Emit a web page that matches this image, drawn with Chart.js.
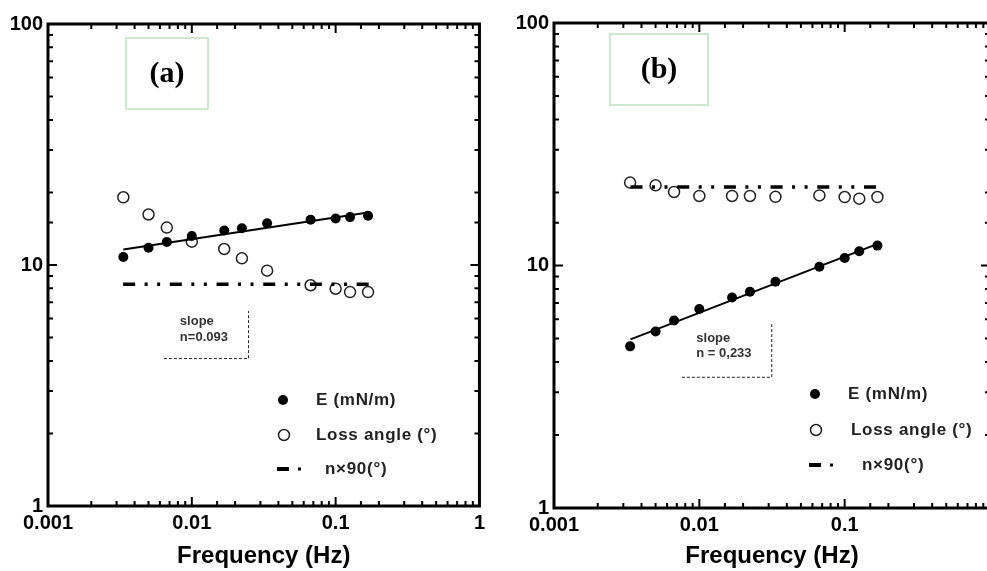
<!DOCTYPE html>
<html>
<head>
<meta charset="utf-8">
<script src="https://cdn.jsdelivr.net/npm/chart.js@4.4.1/dist/chart.umd.min.js"></script>
<style>
  html, body { margin: 0; padding: 0; background: #fff; }
  body { width: 987px; height: 571px; position: relative; overflow: hidden; }
  canvas { position: absolute; top: 0; }
  #chartA { left: 0; }
  #chartB { left: 490px; }
</style>
</head>
<body>
<canvas id="chartA" width="490" height="571"></canvas>
<canvas id="chartB" width="510" height="571"></canvas>
<script>
// frequencies (Hz), shared by both panels
const freq = [0.00334, 0.005, 0.0067, 0.01, 0.0168, 0.0223, 0.0334, 0.067, 0.1, 0.126, 0.168];

// panel (a)
const modulusA   = [10.8, 11.8, 12.45, 13.2, 13.9, 14.2, 14.9, 15.4, 15.6, 15.8, 16.0];
const lossAngleA = [19.1, 16.2, 14.3, 12.5, 11.65, 10.66, 9.47, 8.24, 7.97, 7.72, 7.72];
const fitFreqA   = [0.00334, 0.168];
const fitA       = [11.6, 16.5];
const n90FreqA   = [0.00333, 0.17];
const n90A       = [8.32, 8.32];
const slopeFreqA = [0.0064, 0.0248, 0.0248];
const slopeValA  = [4.09, 4.09, 6.44];

// panel (b)
const modulusB   = [4.64, 5.34, 5.93, 6.62, 7.38, 7.79, 8.57, 9.89, 10.74, 11.45, 12.08];
const lossAngleB = [21.97, 21.4, 20.1, 19.35, 19.35, 19.35, 19.2, 19.45, 19.16, 18.86, 19.16];
const fitFreqB   = [0.00336, 0.1686];
const fitB       = [4.96, 12.28];
const n90FreqB   = [0.00336, 0.168];
const n90B       = [21.08, 21.08];
const slopeFreqB = [0.00759, 0.0315, 0.0315];
const slopeValB  = [3.46, 3.46, 5.78];

// tick labels
const xTickLabelsA = ['0.001', '0.01', '0.1', '1'];
const xTickLabelsB = ['0.001', '0.01', '0.1'];
const yTickLabels  = ['1', '10', '100'];

const legendLabels = ['E (mN/m)', 'Loss angle (\u00b0)', 'n\u00d790(\u00b0)'];

const SANS = '"Liberation Sans", Arial, sans-serif';
const SERIF = '"Liberation Serif", "Times New Roman", serif';
const DASH_DOT = [12, 9.5, 3, 9.5, 3, 9.7];

const zip = (xs, ys) => xs.map((x, i) => ({ x, y: ys[i] }));

function isDecade(v) {
  const l = Math.log10(v);
  return Math.abs(l - Math.round(l)) < 1e-6;
}

function labelFor(v, labels) {
  if (!isDecade(v)) return '';
  const l = Math.log10(v);
  return labels.find(s => Math.abs(Math.log10(Number(s)) - l) < 1e-6) || '';
}

// ── frame, inward ticks, legend, slope text and panel letter ─────────────
const decorPlugin = {
  id: 'decor',
  afterDraw(chart, args, opts) {
    const { ctx, chartArea: a } = chart;
    const xs = chart.scales.x, ys = chart.scales.y;
    ctx.save();

    // ticks on all four sides, pointing inward
    ctx.strokeStyle = '#000';
    ctx.lineWidth = 2;
    ctx.beginPath();
    xs.ticks.forEach(t => {
      const px = xs.getPixelForValue(t.value);
      if (px < a.left - 0.5 || px > a.right + 0.5) return;
      const len = isDecade(t.value) ? 9 : 5;
      ctx.moveTo(px, a.bottom); ctx.lineTo(px, a.bottom - len);
      ctx.moveTo(px, a.top);    ctx.lineTo(px, a.top + len);
    });
    ys.ticks.forEach(t => {
      const py = ys.getPixelForValue(t.value);
      if (py < a.top - 0.5 || py > a.bottom + 0.5) return;
      const len = isDecade(t.value) ? 9 : 5;
      ctx.moveTo(a.left, py);  ctx.lineTo(a.left + len, py);
      ctx.moveTo(a.right, py); ctx.lineTo(a.right - len, py);
    });
    ctx.stroke();

    ctx.lineWidth = 3;
    ctx.strokeRect(a.left, a.top, a.right - a.left, a.bottom - a.top);

    // panel letter in its box
    const b = opts.letterBox;
    ctx.strokeStyle = '#cde8d1';
    ctx.lineWidth = 2;
    ctx.strokeRect(b.x, b.y, b.w, b.h);
    ctx.fillStyle = '#000';
    ctx.font = 'bold 30px ' + SERIF;
    ctx.textAlign = 'center';
    ctx.textBaseline = 'middle';
    ctx.fillText(opts.letter, b.x + b.w / 2, b.y + b.h / 2 + 1);

    // slope annotation
    const s = opts.slope;
    ctx.fillStyle = '#333';
    ctx.font = 'bold 13px ' + SANS;
    ctx.textAlign = 'left';
    const sx = xs.getPixelForValue(s.x);
    ctx.fillText('slope', sx, ys.getPixelForValue(s.y[0]));
    ctx.fillText(s.text, sx, ys.getPixelForValue(s.y[1]));

    // legend
    const L = opts.legend;
    ctx.font = 'bold 17px ' + SANS;
    ctx.letterSpacing = '0.7px';
    ctx.fillStyle = '#222';
    ctx.fillText(legendLabels[0], L.textX[0], L.rows[0]);
    ctx.fillText(legendLabels[1], L.textX[1], L.rows[1]);
    ctx.fillText(legendLabels[2], L.textX[2], L.rows[2]);
    ctx.letterSpacing = '0px';

    ctx.fillStyle = '#000';
    ctx.beginPath();
    ctx.arc(L.symX, L.rows[0], 5, 0, Math.PI * 2);
    ctx.fill();
    ctx.strokeStyle = '#222';
    ctx.lineWidth = 1.5;
    ctx.beginPath();
    ctx.arc(L.symX + 1, L.rows[1], 5.5, 0, Math.PI * 2);
    ctx.stroke();
    ctx.fillRect(L.symX - 6, L.rows[2] - 2, 12, 4);
    ctx.fillRect(L.symX + 15, L.rows[2] - 1.5, 3, 3);

    ctx.restore();
  }
};

function makeChart(id, p) {
  return new Chart(document.getElementById(id), {
    type: 'scatter',
    data: {
      datasets: [
        {
          data: zip(p.n90Freq, p.n90),
          showLine: true,
          borderColor: '#000',
          borderWidth: 3.5,
          borderDash: DASH_DOT,
          pointRadius: 0
        },
        {
          data: zip(p.fitFreq, p.fit),
          showLine: true,
          borderColor: '#000',
          borderWidth: 2,
          pointRadius: 0
        },
        {
          data: zip(p.slopeFreq, p.slopeVal),
          showLine: true,
          borderColor: '#222',
          borderWidth: 1,
          borderDash: [3, 2],
          pointRadius: 0
        },
        {
          data: zip(freq, p.modulus),
          backgroundColor: '#000',
          borderColor: '#000',
          pointRadius: 5,
          borderWidth: 0
        },
        {
          data: zip(freq, p.loss),
          backgroundColor: 'rgba(0,0,0,0)',
          borderColor: '#222',
          pointRadius: 5.5,
          borderWidth: 1.5
        }
      ]
    },
    options: {
      responsive: false,
      animation: false,
      events: [],
      layout: { padding: { top: p.padTop, right: p.padRight, left: 0, bottom: 0 } },
      plugins: {
        legend: { display: false },
        tooltip: { enabled: false },
        decor: p.decor
      },
      scales: {
        x: {
          type: 'logarithmic',
          min: 0.001,
          max: 1,
          grid: { display: false, drawTicks: false },
          border: { display: false },
          ticks: {
            autoSkip: false,
            maxRotation: 0,
            padding: 5,
            color: '#000',
            font: { family: SANS, size: 20, weight: 'bold' },
            callback: v => labelFor(v, p.xLabels)
          },
          title: {
            display: true,
            text: 'Frequency (Hz)',
            color: '#000',
            font: { family: SANS, size: 24, weight: 'bold' },
            padding: { top: 0, bottom: 0 }
          },
          afterFit: s => { s.height = p.xAxisHeight; }
        },
        y: {
          type: 'logarithmic',
          min: 1,
          max: 100,
          grid: { display: false, drawTicks: false },
          border: { display: false },
          ticks: {
            autoSkip: false,
            padding: 5,
            color: '#000',
            font: { family: SANS, size: 20, weight: 'bold' },
            callback: v => labelFor(v, yTickLabels)
          },
          afterFit: s => { s.width = p.yAxisWidth; }
        }
      }
    },
    plugins: [decorPlugin]
  });
}

makeChart('chartA', {
  modulus: modulusA, loss: lossAngleA,
  fitFreq: fitFreqA, fit: fitA,
  n90Freq: n90FreqA, n90: n90A,
  slopeFreq: slopeFreqA, slopeVal: slopeValA,
  xLabels: xTickLabelsA,
  padTop: 24, padRight: 10, xAxisHeight: 65, yAxisWidth: 48,
  decor: {
    letter: '(a)',
    letterBox: { x: 126, y: 38, w: 82, h: 71 },
    slope: { x: 0.00826, y: [5.86, 5.03], text: 'n=0.093' },
    legend: { symX: 283, rows: [400, 435, 469], textX: [316, 316, 325] }
  }
});

makeChart('chartB', {
  modulus: modulusB, loss: lossAngleB,
  fitFreq: fitFreqB, fit: fitB,
  n90Freq: n90FreqB, n90: n90B,
  slopeFreq: slopeFreqB, slopeVal: slopeValB,
  xLabels: xTickLabelsB,
  padTop: 23, padRight: 10, xAxisHeight: 63, yAxisWidth: 64,
  decor: {
    letter: '(b)',
    letterBox: { x: 120, y: 34, w: 98, h: 71 },
    slope: { x: 0.00953, y: [5.02, 4.34], text: 'n = 0,233' },
    legend: { symX: 325, rows: [394, 430, 465], textX: [358, 361, 372] }
  }
});
</script>
</body>
</html>
